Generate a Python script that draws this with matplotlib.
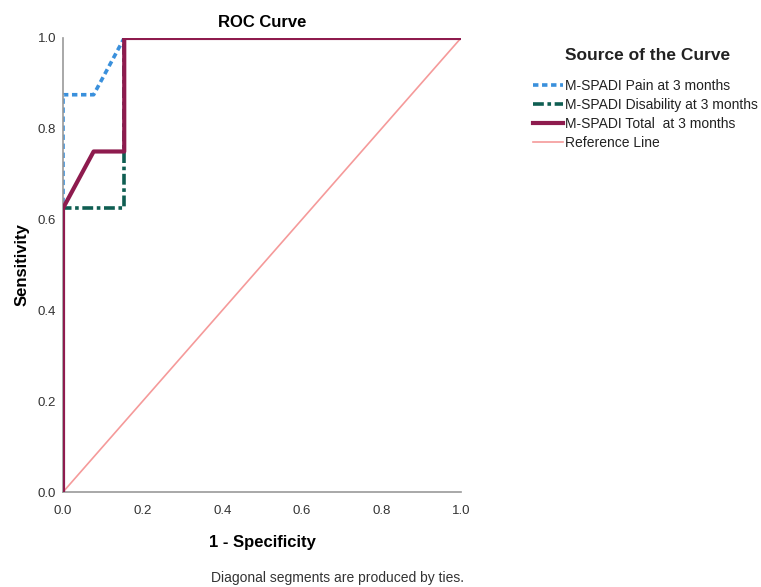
import numpy as np
import matplotlib.pyplot as plt

plt.rcParams['font.family'] = ['Liberation Sans', 'DejaVu Sans']

# ROC points (1 - specificity, sensitivity)
pain_x = [0.0, 0.0, 1/13, 2/13, 1.0]
pain_y = [0.0, 0.875, 0.875, 1.0, 1.0]

dis_x = [0.0, 0.0, 2/13, 2/13, 2/13, 1.0]
dis_y = [0.0, 0.625, 0.625, 0.75, 1.0, 1.0]

tot_x = [0.0, 0.0, 1/13, 2/13, 2/13, 1.0]
tot_y = [0.0, 0.625, 0.75, 0.75, 1.0, 1.0]

ref_x = [0.0, 1.0]
ref_y = [0.0, 1.0]

fig = plt.figure(figsize=(7.61, 5.87), dpi=100)
ax = fig.add_axes([0.0828, 0.1618, 0.523, 0.7735])

ax.plot(ref_x, ref_y, color='#f59a9a', lw=1.2, label='Reference Line', zorder=1)
ax.plot(pain_x, pain_y, color='#3a90dc', lw=2.6, ls=(0, (1.5, 1)),
        label='M-SPADI Pain at 3 months', zorder=2)
ax.plot(dis_x, dis_y, color='#0f5e52', lw=2.6, ls=(0, (3, 1, 1, 1)),
        label='M-SPADI Disability at 3 months', zorder=3)
ax.plot(tot_x, tot_y, color='#8e1b4e', lw=3, label='M-SPADI Total  at 3 months', zorder=4)

ax.set_xlim(0, 1)
ax.set_ylim(0, 1)
ticks = np.arange(0, 1.01, 0.2)
ax.set_xticks(ticks)
ax.set_yticks(ticks)
ax.set_xticklabels(['%.1f' % v for v in ticks])
ax.set_yticklabels(['%.1f' % v for v in ticks])
ax.tick_params(axis='x', length=0, labelsize=9.5, colors='#333333', pad=9)
ax.tick_params(axis='y', length=0, labelsize=9.5, colors='#333333', pad=5)
for s in ['top', 'right']:
    ax.spines[s].set_visible(False)
for s in ['left', 'bottom']:
    ax.spines[s].set_color('#999999')
    ax.spines[s].set_linewidth(1.2)

ax.set_title('ROC Curve', fontsize=12, fontweight='bold', pad=8)
ax.set_xlabel('1 - Specificity', fontsize=12, fontweight='bold', labelpad=13)
ax.set_ylabel('Sensitivity', fontsize=12, fontweight='bold', labelpad=6)

# legend: title placed separately so the gap matches
fig.text(0.851, 0.906, 'Source of the Curve', ha='center', va='center',
         fontsize=12.5, fontweight='bold', color='#222222')
handles, labels = ax.get_legend_handles_labels()
order = [1, 2, 3, 0]
leg = fig.legend([handles[i] for i in order], [labels[i] for i in order],
                 loc='upper left', bbox_to_anchor=(0.700, 0.866),
                 frameon=False, fontsize=10, borderaxespad=0, borderpad=0,
                 handlelength=2.2, handletextpad=0.1, labelspacing=0.37)
for t in leg.get_texts():
    t.set_color('#222222')

fig.text(0.61, 0.003, 'Diagonal segments are produced by ties.', ha='right',
         va='bottom', fontsize=10, color='#333333')

fig.savefig('out.png', dpi=100)
